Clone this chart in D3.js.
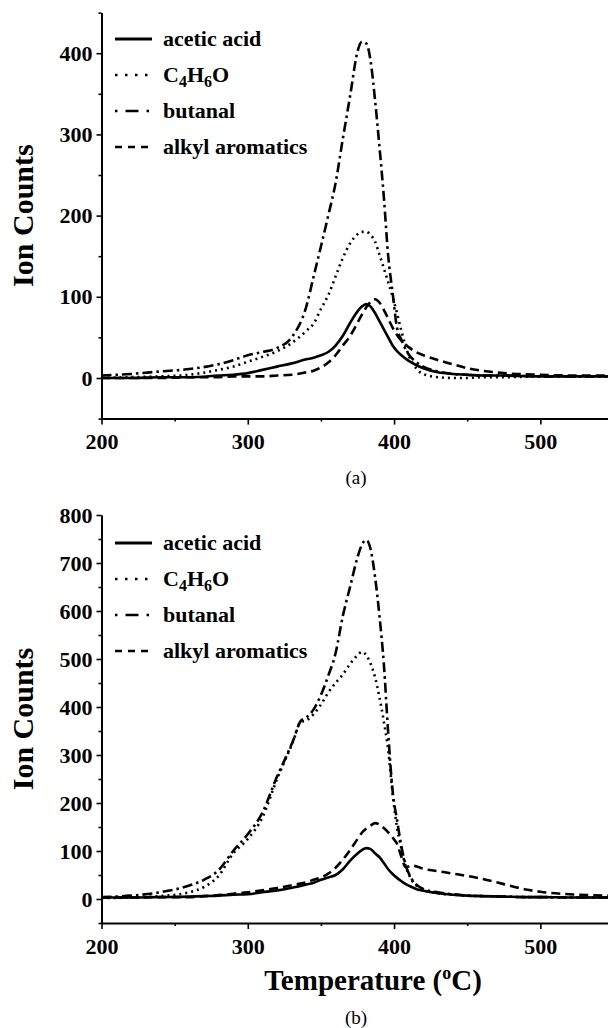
<!DOCTYPE html>
<html>
<head>
<meta charset="utf-8">
<script src="https://cdn.jsdelivr.net/npm/d3@7"></script>
<style>
  body { margin: 0; background: #fff; }
  text { font-family: "Liberation Serif", "Times New Roman", serif; fill: #000; }
  .tick text { font-weight: bold; font-size: 22px; }
  .tick line { stroke: #000; stroke-width: 1.6; }
  .domain { stroke: #000; stroke-width: 2; }
</style>
</head>
<body>
<div id="chart"></div>
<script>
// Panel (a) readings
const tempsA = [200, 220, 240, 260, 280, 290, 300, 310, 320, 330, 340, 345, 350, 355, 360, 365, 370, 375, 378, 381,
                384, 387, 390, 393, 396, 399, 402, 405, 410, 415, 420, 430, 440, 450, 460, 475, 500, 525, 550];
const aceticA = [0, 0, 1, 1, 3, 4, 6, 10, 14, 18, 23, 25, 28, 32, 40, 52, 68, 82, 88, 91,
                 88, 80, 70, 60, 50, 40, 33, 28, 21, 16, 12, 7, 5, 4, 3, 3, 2, 2, 2];
const c4h6oA = [0, 1, 2, 4, 10, 14, 20, 26, 33, 43, 58, 67, 85, 102, 125, 148, 166, 177, 180, 180,
                176, 168, 152, 135, 118, 100, 80, 58, 28, 12, 5, 1, 0, 0, 1, 1, 2, 2, 2];
const butanalA = [3, 5, 8, 11, 17, 22, 28, 32, 37, 50, 88, 125, 162, 200, 240, 295, 348, 402, 414, 412,
                  390, 342, 285, 223, 150, 105, 62, 47, 29, 20, 14, 8, 5, 4, 3, 3, 2, 2, 2];
const alkylA = [0, 0, 0, 1, 1, 2, 2, 2, 3, 4, 7, 9, 13, 19, 28, 40, 52, 68, 78, 87,
                94, 97, 93, 84, 73, 62, 53, 46, 38, 32, 28, 22, 17, 12, 9, 6, 4, 3, 3];

// Panel (b) readings
const tempsB = [200, 220, 240, 260, 270, 280, 290, 300, 310, 320, 326, 331, 336, 340, 345, 350, 355, 360, 365, 370,
                375, 378, 381, 384, 387, 390, 393, 396, 399, 402, 405, 408, 412, 416, 420, 430, 440, 450, 460, 475,
                490, 500, 525, 550];
const aceticB = [3, 3, 4, 5, 6, 7, 9, 10, 14, 18, 21, 24, 27, 30, 34, 40, 45, 50, 62, 80,
                 95, 102, 106, 104, 95, 87, 75, 62, 52, 44, 37, 31, 25, 20, 17, 12, 9, 7, 6, 5,
                 4, 4, 3, 3];
const c4h6oB = [2, 3, 6, 14, 25, 48, 95, 125, 170, 250, 293, 328, 368, 372, 385, 405, 430, 450, 468, 490,
                508, 515, 508, 490, 462, 420, 370, 310, 220, 150, 105, 68, 40, 26, 19, 12, 9, 7, 6, 5,
                4, 4, 3, 3];
const butanalB = [4, 7, 14, 28, 40, 60, 100, 135, 180, 255, 295, 330, 370, 378, 395, 425, 465, 512, 590, 651,
                  712, 738, 748, 728, 671, 590, 490, 345, 225, 165, 110, 70, 42, 28, 21, 14, 10, 7, 6, 5,
                  4, 4, 3, 3];
const alkylB = [3, 3, 4, 4, 6, 8, 11, 14, 18, 23, 26, 29, 32, 35, 40, 45, 53, 65, 82, 102,
                125, 138, 147, 153, 158, 155, 148, 139, 128, 115, 88, 66, 70, 67, 63, 58, 53, 48, 42, 31,
                20, 15, 9, 7];

const seriesNames = ["acetic acid", "C4H6O", "butanal", "alkyl aromatics"];
const xTicks = [200, 300, 400, 500];
const xMinor = [250, 350, 450, 550];
const yTicksA = [0, 100, 200, 300, 400];
const yMinorA = [-50, 50, 150, 250, 350, 450];
const yTicksB = [0, 100, 200, 300, 400, 500, 600, 700, 800];
const yMinorB = [-50, 50, 150, 250, 350, 450, 550, 650, 750];

const W = 608, H = 1028;
const svg = d3.select("#chart").append("svg")
    .attr("width", W)
    .attr("height", H);

svg.append("rect").attr("width", W).attr("height", H).attr("fill", "#fff");

const x = d3.scaleLinear().domain([200, 550]).range([101.5, 613.5]);

// curve dash patterns, same order as seriesNames
const curveDash = [null, "2,4", "10,4,2.5,4", "9,5"];
const legendDash = [null, "2.5,7.5", "2.5,8,13,8,2.5,40", "7,6"];

const panels = [
    { temps: tempsA, series: [aceticA, c4h6oA, butanalA, alkylA],
      yDomain: [-50, 450], yRange: [418.6, 12.6], yTicks: yTicksA, yMinor: yMinorA,
      legendTop: 39, caption: "(a)", capY: 484, xTitle: false },
    { temps: tempsB, series: [aceticB, c4h6oB, butanalB, alkylB],
      yDomain: [-50, 800], yRange: [923, 515], yTicks: yTicksB, yMinor: yMinorB,
      legendTop: 543, caption: "(b)", capY: 1024, xTitle: true }
];

panels.forEach(p => {
    const y = d3.scaleLinear().domain(p.yDomain).range(p.yRange);
    const g = svg.append("g");

    // Y axis
    g.append("g")
        .attr("transform", `translate(${x(200)},0)`)
        .call(d3.axisLeft(y).tickValues(p.yTicks).tickSize(5).tickPadding(4).tickSizeOuter(0));
    g.append("g")
        .attr("transform", `translate(${x(200)},0)`)
        .call(d3.axisLeft(y).tickValues(p.yMinor).tickSize(3).tickFormat(""))
        .select(".domain").remove();

    // X axis
    g.append("g")
        .attr("transform", `translate(0,${y(-50)})`)
        .call(d3.axisBottom(x).tickValues(xTicks).tickSize(6).tickPadding(9).tickSizeOuter(0));
    g.append("g")
        .attr("transform", `translate(0,${y(-50)})`)
        .call(d3.axisBottom(x).tickValues(xMinor).tickSize(3).tickFormat(""))
        .select(".domain").remove();

    // Y title
    const midY = (p.yRange[0] + p.yRange[1]) / 2;
    g.append("text")
        .attr("transform", `translate(33,${midY}) rotate(-90)`)
        .attr("text-anchor", "middle")
        .style("font-size", "30px")
        .style("font-weight", "bold")
        .text("Ion Counts");

    // Curves
    const line = d3.line()
        .x((d, i) => x(p.temps[i]))
        .y(d => y(d))
        .curve(d3.curveMonotoneX);

    p.series.forEach((vals, k) => {
        g.append("path")
            .datum(vals)
            .attr("d", line)
            .attr("fill", "none")
            .attr("stroke", "#000")
            .attr("stroke-width", 2.6)
            .attr("stroke-dasharray", curveDash[k]);
    });

    // Legend
    seriesNames.forEach((name, k) => {
        const ly = p.legendTop + k * 36;
        g.append("line")
            .attr("x1", 115).attr("x2", 152)
            .attr("y1", ly).attr("y2", ly)
            .attr("stroke", "#000")
            .attr("stroke-width", k === 0 ? 3 : 2.6)
            .attr("stroke-dasharray", legendDash[k]);
        const t = g.append("text")
            .attr("x", 163).attr("y", ly + 7)
            .style("font-size", "22px")
            .style("font-weight", "bold");
        if (name === "C4H6O") {
            t.append("tspan").text("C");
            t.append("tspan").attr("dy", 5).style("font-size", "16px").text("4");
            t.append("tspan").attr("dy", -5).text("H");
            t.append("tspan").attr("dy", 5).style("font-size", "16px").text("6");
            t.append("tspan").attr("dy", -5).text("O");
        } else {
            t.text(name);
        }
    });

    // Caption
    g.append("text")
        .attr("x", 356).attr("y", p.capY)
        .attr("text-anchor", "middle")
        .style("font-size", "19px")
        .text(p.caption);

    if (p.xTitle) {
        const t = g.append("text")
            .attr("x", 373).attr("y", 990)
            .attr("text-anchor", "middle")
            .style("font-size", "29px")
            .style("font-weight", "bold");
        t.append("tspan").text("Temperature (");
        t.append("tspan").attr("dy", -11).style("font-size", "18px").text("o");
        t.append("tspan").attr("dy", 11).text("C)");
    }
});
</script>
</body>
</html>
